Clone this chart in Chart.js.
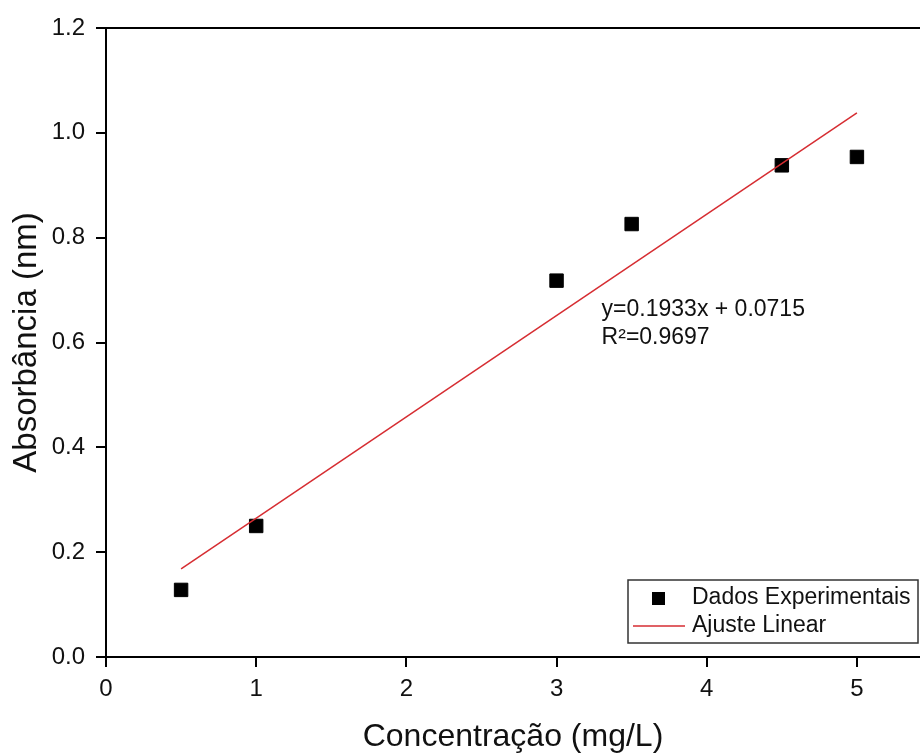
<!DOCTYPE html>
<html>
<head>
<meta charset="utf-8">
<script src="https://cdn.jsdelivr.net/npm/chart.js@4.4.1/dist/chart.umd.min.js"></script>
<style>
  html, body { margin: 0; padding: 0; background: #fff; }
  #wrap { width: 920px; height: 756px; }
</style>
</head>
<body>
<div id="wrap"><canvas id="curva" width="920" height="756"></canvas></div>
<script>
// Pontos medidos da curva de calibração
const concentracao = [0.5, 1, 3, 3.5, 4.5, 5];
const absorbancia = [0.128, 0.25, 0.718, 0.826, 0.938, 0.954];

// Extremos da reta ajustada (y = 0.1933x + 0.0715)
const ajusteX = [0.5, 5];
const ajusteY = [0.168, 1.038];

// Marcas dos eixos
const xTicks = [0, 1, 2, 3, 4, 5];
const yTicks = [0, 0.2, 0.4, 0.6, 0.8, 1.0, 1.2];

const fonte = 'Liberation Sans, Arial, sans-serif';
const vermelho = 'rgb(214, 45, 50)';

// Borda superior do gráfico
const bordaTopo = {
    id: 'bordaTopo',
    afterDraw(chart) {
        const { ctx, chartArea } = chart;
        ctx.save();
        ctx.strokeStyle = '#000';
        ctx.lineWidth = 2;
        ctx.beginPath();
        ctx.moveTo(chartArea.left - 1, chartArea.top);
        ctx.lineTo(chartArea.right, chartArea.top);
        ctx.stroke();
        ctx.restore();
    }
};

// Equação e R² da regressão
const equacao = {
    id: 'equacao',
    afterDatasetsDraw(chart) {
        const { ctx, scales } = chart;
        const x = scales.x.getPixelForValue(3.3);
        const y = scales.y.getPixelForValue(0.65);
        ctx.save();
        ctx.fillStyle = '#111';
        ctx.font = '23px ' + fonte;
        ctx.textAlign = 'left';
        ctx.textBaseline = 'alphabetic';
        ctx.fillText('y=0.1933x + 0.0715', x, y);
        ctx.fillText('R²=0.9697', x, y + 28);
        ctx.restore();
    }
};

// Legenda com moldura no canto inferior direito
const legendaCaixa = {
    id: 'legendaCaixa',
    afterDraw(chart) {
        const { ctx, chartArea } = chart;
        const ds = chart.data.datasets;
        const right = chartArea.right - 2;
        const bottom = chartArea.bottom - 14;
        const left = 628;
        const top = bottom - 63;
        ctx.save();
        ctx.fillStyle = '#fff';
        ctx.fillRect(left, top, right - left, bottom - top);
        ctx.strokeStyle = '#333';
        ctx.lineWidth = 1.5;
        ctx.strokeRect(left, top, right - left, bottom - top);

        // marcador quadrado
        ctx.fillStyle = '#000';
        ctx.fillRect(652, top + 12, 13, 13);
        // linha do ajuste
        ctx.strokeStyle = vermelho;
        ctx.lineWidth = 1.5;
        ctx.beginPath();
        ctx.moveTo(633, top + 46);
        ctx.lineTo(685, top + 46);
        ctx.stroke();

        ctx.fillStyle = '#111';
        ctx.font = '23px ' + fonte;
        ctx.textBaseline = 'middle';
        ctx.fillText(ds[0].label, 692, top + 18);
        ctx.fillText(ds[1].label, 692, top + 46);
        ctx.restore();
    }
};

const config = {
    type: 'scatter',
    data: {
        datasets: [
            {
                label: 'Dados Experimentais',
                data: concentracao.map((c, i) => ({ x: c, y: absorbancia[i] })),
                pointStyle: 'rect',
                pointRadius: 9.5,
                backgroundColor: '#000',
                borderColor: '#000',
                borderWidth: 1,
                order: 2
            },
            {
                label: 'Ajuste Linear',
                type: 'line',
                data: ajusteX.map((c, i) => ({ x: c, y: ajusteY[i] })),
                borderColor: vermelho,
                borderWidth: 1.5,
                pointRadius: 0,
                fill: false,
                order: 1
            }
        ]
    },
    options: {
        responsive: false,
        animation: false,
        layout: { autoPadding: false, padding: { top: 28, right: 0, bottom: 0, left: 0 } },
        plugins: {
            legend: { display: false },
            tooltip: { enabled: false }
        },
        scales: {
            x: {
                type: 'linear',
                min: 0,
                max: 5.42,
                afterBuildTicks(scale) { scale.ticks = xTicks.map(v => ({ value: v })); },
                afterFit(scale) { scale.height = 99; },
                border: { display: true, color: '#000', width: 2 },
                grid: { drawOnChartArea: false, color: '#000', lineWidth: 2, tickLength: 10 },
                ticks: {
                    color: '#111',
                    padding: 8,
                    font: { family: fonte, size: 24 },
                    callback: v => String(v)
                },
                title: {
                    display: true,
                    text: 'Concentração (mg/L)',
                    color: '#111',
                    padding: { top: 0, bottom: 0 },
                    font: { family: fonte, size: 32 }
                }
            },
            y: {
                min: 0,
                max: 1.2,
                afterBuildTicks(scale) { scale.ticks = yTicks.map(v => ({ value: v })); },
                afterFit(scale) { scale.width = 106; },
                border: { display: true, color: '#000', width: 2 },
                grid: { drawOnChartArea: false, color: '#000', lineWidth: 2, tickLength: 10 },
                ticks: {
                    color: '#111',
                    padding: 11,
                    font: { family: fonte, size: 24 },
                    callback: v => Number(v).toFixed(1)
                },
                title: {
                    display: true,
                    text: 'Absorbância (nm)',
                    color: '#111',
                    padding: { top: 7, bottom: 0 },
                    font: { family: fonte, size: 33 }
                }
            }
        }
    },
    plugins: [bordaTopo, equacao, legendaCaixa]
};

window.onload = function() {
    const ctx = document.getElementById('curva').getContext('2d');
    new Chart(ctx, config);
};
</script>
</body>
</html>
